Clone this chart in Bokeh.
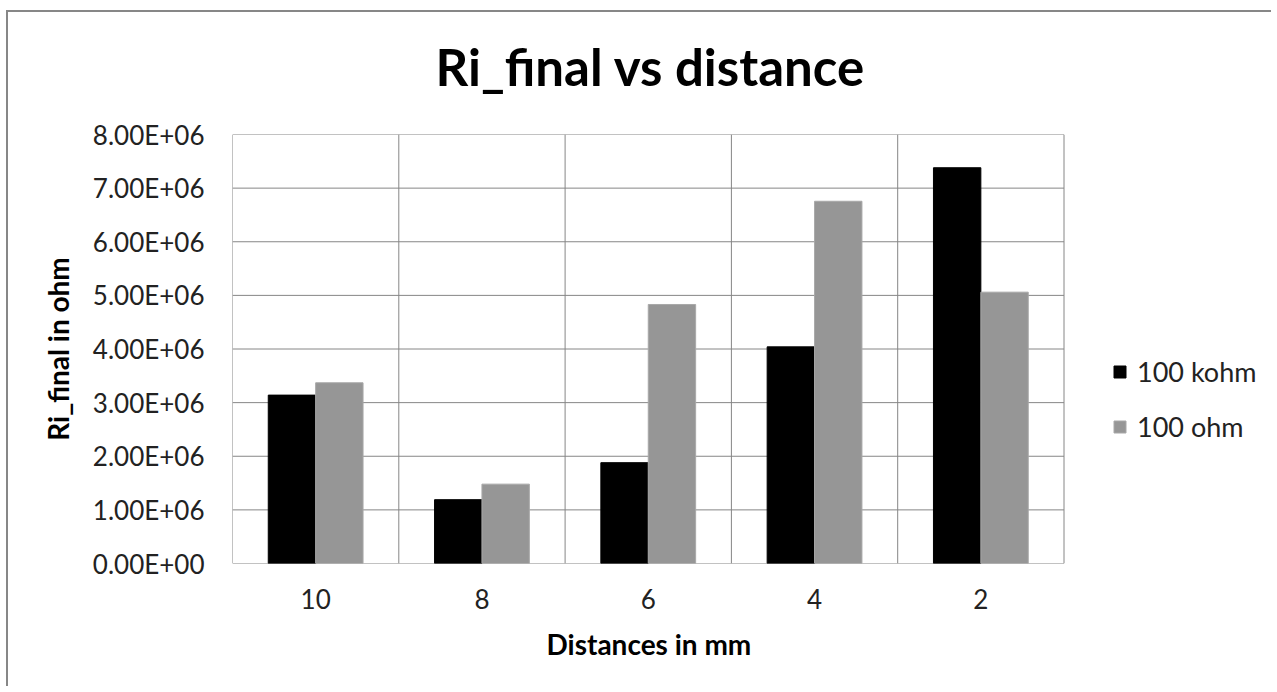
from bokeh.plotting import figure
from bokeh.models import Range1d, FixedTicker, Legend, LegendItem, Title
from bokeh.embed import file_html
from bokeh.resources import INLINE

# ---- data ----
categories = ["10", "8", "6", "4", "2"]
series_names = ["100 kohm", "100 ohm"]
kohm_values = [3.14e6, 1.19e6, 1.88e6, 4.04e6, 7.38e6]
ohm_values = [3.37e6, 1.48e6, 4.83e6, 6.755e6, 5.06e6]
y_ticks = [0, 1e6, 2e6, 3e6, 4e6, 5e6, 6e6, 7e6, 8e6]
y_tick_labels = ["0.00E+00", "1.00E+06", "2.00E+06", "3.00E+06", "4.00E+06",
                 "5.00E+06", "6.00E+06", "7.00E+06", "8.00E+06"]
title_text = "Ri_final vs distance"
x_label = "Distances in mm"
y_label = "Ri_final in ohm"

FONT = "Lato"
GRID = "#868686"
BLACK = "#000000"
GRAY = "#969696"

# layout (pixels)
FIG_W, FIG_H = 1265, 676
LEFT, BOTTOM = 224, 125
PLOT_W = 831.5          # width of the gridded plot area
FRAME_W = FIG_W - LEFT  # frame extends to the right edge (legend lives inside)

n = len(categories)
y_max = y_ticks[-1]
centers = [i + 0.5 for i in range(n)]
bw = 0.285
x_black = [c - bw / 2 for c in centers]
x_gray = [c + bw / 2 for c in centers]
x_end = n * FRAME_W / PLOT_W

p = figure(width=FIG_W, height=FIG_H, output_backend="svg", toolbar_location=None,
           x_range=Range1d(0, x_end), y_range=Range1d(0, y_max),
           min_border_left=LEFT, min_border_right=0, min_border_top=0,
           min_border_bottom=BOTTOM, background_fill_color="white",
           border_fill_color="white")
p.margin = (10, 0, 0, 6)
p.styles = {"border-left": "2px solid #878787", "border-top": "2px solid #878787"}

p.title = Title(text=title_text, align="left", offset=203, text_font=FONT,
                text_font_size="51px", text_font_style="bold",
                text_color="#000000", standoff=42,
                padding=dict(left=0, right=0, top=0, bottom=17))

# grid of the plot area (limited to the categories, not the legend area)
bounds = list(range(n + 1))
p.segment(x0=[0] * len(y_ticks), x1=[n] * len(y_ticks), y0=y_ticks, y1=y_ticks,
          line_color=GRID, line_width=1)
p.segment(x0=bounds, x1=bounds, y0=[0] * len(bounds), y1=[y_max] * len(bounds),
          line_color=GRID, line_width=1)

r1 = p.vbar(x=x_black, top=kohm_values, width=bw, fill_color=BLACK, line_color=BLACK)
r2 = p.vbar(x=x_gray, top=ohm_values, width=bw, fill_color=GRAY, line_color="#a8a8a8")

# axes
p.xaxis.ticker = FixedTicker(ticks=centers)
p.xaxis.major_label_overrides = {c: lab for c, lab in zip(centers, categories)}
p.yaxis.ticker = FixedTicker(ticks=y_ticks)
p.yaxis.major_label_overrides = {t: lab for t, lab in zip(y_ticks, y_tick_labels)}

for ax in (p.xaxis[0], p.yaxis[0]):
    ax.axis_line_color = None
    ax.major_tick_line_color = None
    ax.minor_tick_line_color = None
    ax.major_tick_out = 0
    ax.major_tick_in = 0
    ax.major_label_text_font = FONT
    ax.major_label_text_font_size = "26px"
    ax.major_label_text_color = "#222222"
    ax.axis_label_text_font = FONT
    ax.axis_label_text_font_size = "28px"
    ax.axis_label_text_font_style = "bold"
    ax.axis_label_text_color = "#000000"

p.yaxis.axis_label = y_label
p.xaxis.major_label_standoff = 25
p.yaxis.major_label_standoff = 28
p.yaxis.axis_label_standoff = 15

p.add_layout(Title(text=x_label, align="left", offset=314, text_font=FONT,
                   text_font_size="28px", text_font_style="bold",
                   text_color="#000000", standoff=26), "below")

p.xgrid.grid_line_color = None
p.ygrid.grid_line_color = None
p.outline_line_color = None

legend = Legend(items=[LegendItem(label=series_names[0], renderers=[r1]),
                       LegendItem(label=series_names[1], renderers=[r2])],
                location=(880, 120), orientation="vertical",
                glyph_width=15, glyph_height=15, label_standoff=10,
                spacing=22, padding=0, margin=0,
                label_text_font=FONT, label_text_font_size="27px",
                label_text_color="#222222",
                border_line_color=None, background_fill_alpha=0)
p.add_layout(legend)

open("out.html", "w").write(file_html(p, INLINE))
